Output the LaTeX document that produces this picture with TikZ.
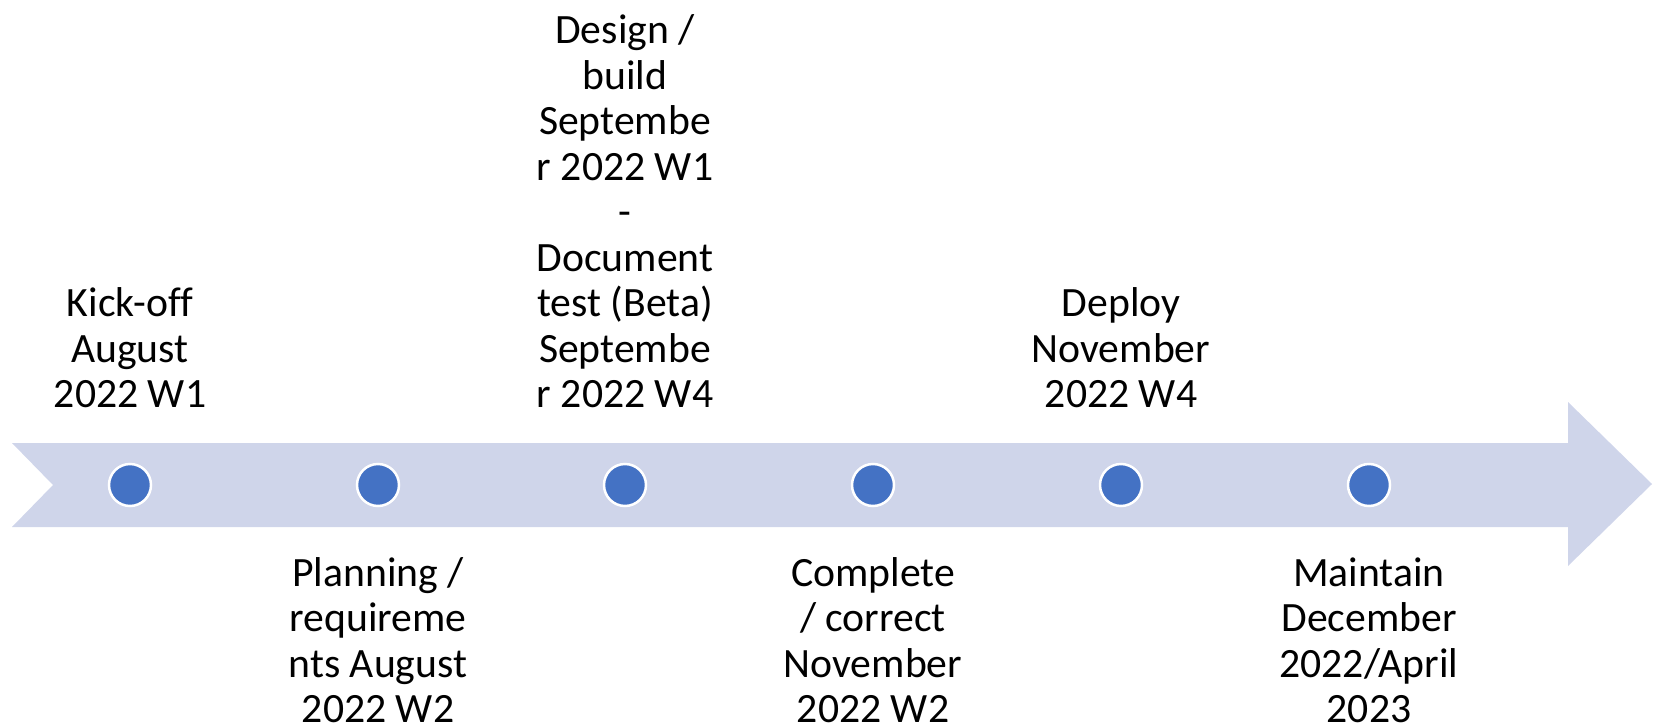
\documentclass[tikz,border=0pt]{standalone}
\usepackage{fontspec}
\setmainfont[Ligatures=NoCommon]{Carlito}
\definecolor{band}{HTML}{CFD5EA}
\definecolor{dot}{HTML}{4472C4}
\begin{document}
\begin{tikzpicture}[x=1pt,y=-1pt,
  dotnode/.style={circle,fill=dot,draw=white,line width=2.5pt,minimum size=42pt,inner sep=0pt},
  lbl/.style={align=center,inner sep=0pt,font=\fontsize{41.7}{45.5}\selectfont}]
\useasboundingbox (0,0) rectangle (1655,728);
\fill[band] (12,443) -- (1568,443) -- (1568,402) -- (1652,484) -- (1568,566) -- (1568,527) -- (12,527) -- (53,485) -- cycle;
\node[dotnode] (d1) at (130,485) {};
\node[dotnode] (d2) at (378,485) {};
\node[dotnode] (d3) at (625,485) {};
\node[dotnode] (d4) at (873,485) {};
\node[dotnode] (d5) at (1121,485) {};
\node[dotnode] (d6) at (1369,485) {};
\node[lbl,anchor=south] (t1) at (130,408) {Kick-off\\August\\2022 W1};
\node[lbl,anchor=south] (t3) at (625,408) {Design /\\build\\Septembe\\r 2022 W1\\-\\Document\\test (Beta)\\Septembe\\r 2022 W4};
\node[lbl,anchor=south] (t5) at (1121,408) {Deploy\\November\\2022 W4};
\node[lbl,anchor=south] (t2) at (378,723) {Planning /\\requireme\\nts August\\2022 W2};
\node[lbl,anchor=south] (t4) at (873,723) {Complete\\/ correct\\November\\2022 W2};
\node[lbl,anchor=south] (t6) at (1369,723) {Maintain\\December\\2022/April\\2023};
\end{tikzpicture}
\end{document}
